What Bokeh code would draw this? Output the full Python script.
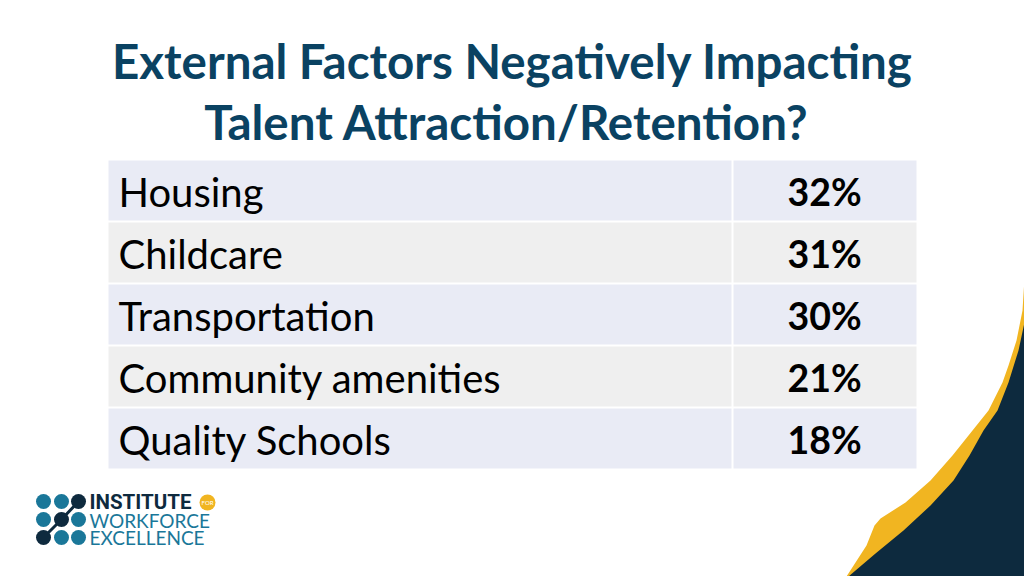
from bokeh.plotting import figure
from bokeh.models import Range1d, ColumnDataSource
from bokeh.core.properties import value
from bokeh.embed import file_html
from bokeh.resources import INLINE

# ---- data ----
categories = ["Housing", "Childcare", "Transportation", "Community amenities", "Quality Schools"]
values = [32, 31, 30, 21, 18]
title_lines = ["External Factors Negatively Impacting", "Talent  Attraction/Retention?"]

# ---- layout / style ----
W, H = 1024, 576
p = figure(width=W, height=H, x_range=Range1d(0, W), y_range=Range1d(H, 0),
           x_axis_type=None, y_axis_type=None, toolbar_location=None,
           output_backend="svg", min_border=0, outline_line_color=None,
           background_fill_color="white", border_fill_color="white")
p.grid.visible = False

TITLE_COLOR = "#0a4262"
BODY_FONT = "Lato"

# title
p.text(x=[512, 512], y=[60, 121], text=title_lines, text_align="center",
       text_baseline="middle", text_font=value(BODY_FONT), text_font_style="bold",
       text_font_size="47.5px", text_color=TITLE_COLOR)

# table
tbl_left, tbl_div, tbl_right = 108, 732, 916
row_top0, row_pitch, row_h = 160, 62, 60
n = len(categories)
tops = [row_top0 + i * row_pitch for i in range(n)]
bottoms = [t + row_h for t in tops]
colors = ["#e9ebf5" if i % 2 == 0 else "#efefef" for i in range(n)]
src = ColumnDataSource(dict(top=tops, bottom=bottoms, color=colors,
                            cat=categories,
                            pct=[f"{v}%" for v in values],
                            mid=[t + 31 for t in tops]))
p.quad(left=tbl_left, right=tbl_div - 1, top="top", bottom="bottom", fill_color="color",
       line_color=None, source=src)
p.quad(left=tbl_div + 1, right=tbl_right, top="top", bottom="bottom", fill_color="color",
       line_color=None, source=src)
p.text(x=118, y="mid", text="cat", source=src, text_align="left", text_baseline="middle",
       text_font=value(BODY_FONT), text_font_size="40px", text_color="#000000")
p.text(x=(tbl_div + tbl_right) / 2, y="mid", text="pct", source=src, text_align="center",
       text_baseline="middle", text_font=value(BODY_FONT), text_font_style="bold",
       text_font_size="37.5px", text_color="#000000")

# decorative corner
gold_x = [1024, 1022, 1016, 1008, 1002, 988, 972, 952, 930, 905, 880, 874, 866, 846, 1030, 1030]
gold_y = [278, 310, 340, 365, 382, 410, 430, 455, 480, 502, 518, 525, 545, 576, 580, 278]
navy_x = [1024, 1018, 1008, 997, 983, 969, 953, 930, 903, 875, 848, 1030, 1030]
navy_y = [322, 350, 382, 410, 430, 455, 480, 505, 530, 553, 576, 580, 322]
p.patch(gold_x, gold_y, fill_color="#f1b521", line_color=None)
p.patch(navy_x, navy_y, fill_color="#0d2a3e", line_color=None)

# logo
TEAL = "#1a7799"
DARK = "#0e2a3e"
dx = [43, 61, 78]
dy = [501, 519, 537]
lx, ly, lc = [], [], []
for r, yy in enumerate(dy):
    for c, xx in enumerate(dx):
        lx.append(xx); ly.append(yy)
        lc.append(DARK if r + c == 2 else TEAL)
p.line([78, 61, 43], [501, 519, 537], line_color=DARK, line_width=3)
p.scatter(lx, ly, size=15, fill_color=lc, line_color=None)
p.text(x=[89], y=[501.5], text=["INSTITUTE"], text_font=value("Roboto"), text_font_style="bold",
       text_font_size="20.5px", text_color=DARK, text_baseline="middle")
p.scatter([207], [502], size=16, fill_color="#f1b521", line_color=None)
p.text(x=[207], y=[502], text=["FOR"], text_font=value("Lato"), text_font_size="6px",
       text_color="white", text_align="center", text_baseline="middle")
p.text(x=[89, 89], y=[520, 537], text=["WORKFORCE", "EXCELLENCE"], text_font=value("Lato"),
       text_font_size="19px", text_color=TEAL, text_baseline="middle")

open("out.html", "w").write(file_html(p, INLINE))
